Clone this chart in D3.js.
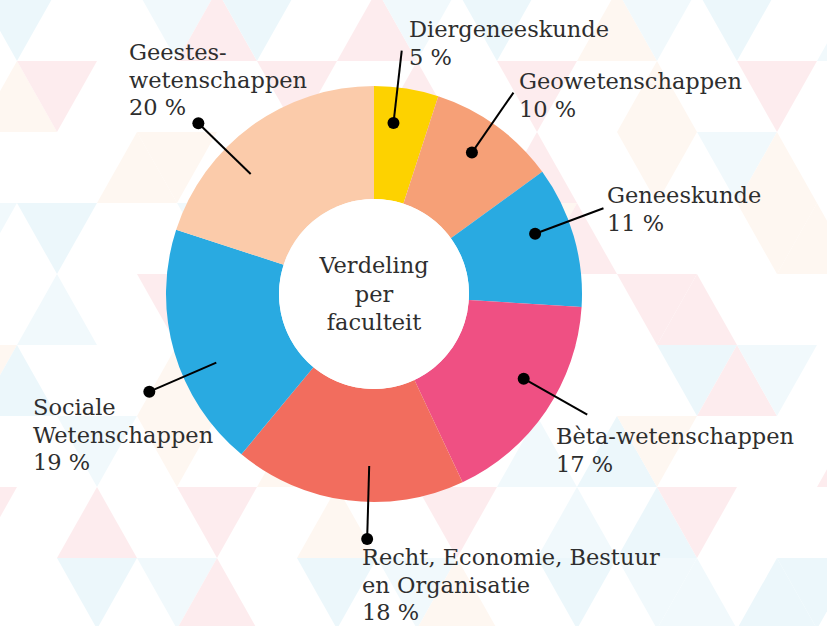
<!DOCTYPE html>
<html>
<head>
<meta charset="utf-8">
<script src="https://cdn.jsdelivr.net/npm/d3@7"></script>
<style>
  body { margin: 0; background: #fff; }
  #chart text { font-family: "DejaVu Serif", serif; font-size: 22.5px; fill: #2e2e2e; }
</style>
</head>
<body>
<div id="chart"></div>
<script>
// data
const faculties = ["Diergeneeskunde", "Geowetenschappen", "Geneeskunde", "Bèta-wetenschappen",
  "Recht, Economie, Bestuur en Organisatie", "Sociale Wetenschappen", "Geestes-wetenschappen"];
const shares = [5, 10, 11, 17, 18, 19, 20];
const labelLines = [["Diergeneeskunde"], ["Geowetenschappen"], ["Geneeskunde"], ["Bèta-wetenschappen"],
  ["Recht, Economie, Bestuur", "en Organisatie"], ["Sociale", "Wetenschappen"], ["Geestes-", "wetenschappen"]];
const colors = ["#fdd200", "#f6a077", "#29aae1", "#ef5083", "#f26d5e", "#29aae1", "#fbcbaa"];
const centerTitle = ["Verdeling", "per", "faculteit"];

// label layout (leader angle in degrees, dot side, text anchor)
const leaderAngle = [6.5, 34.7, 69.5, 119.5, 181.6, 246.5, 314.2];
const dotOutside = [false, false, false, false, true, true, true];
const labelX = [409, 519, 607, 556, 362, 33, 129];
const labelY = [37, 89, 203, 444, 565, 415, 60];

const width = 827, height = 626;
const cx = 374, cy = 294;
const outerR = 208, innerR = 95;
const lineH = 27.5;

const svg = d3.select("#chart").append("svg")
  .attr("width", width)
  .attr("height", height);

// faint triangle background
const triColors = ["#d8eff7", "#fbd9dd", "#fdeee2", "#e3f3f9"];
const bg = svg.append("g").attr("class", "bg");
const triH = 71, triW = 80;
for (let r = -7; r <= 2; r++) {
  const y0 = 487 + r * triH, y1 = y0 + triH;
  const a = (r % 2 === 0 ? 177 : 217) - 3 * triW;
  for (let k = 0; k < 12; k++) {
    const tx = a + k * triW;
    const pick1 = (Math.abs(r * 5 + k * 3) + 1) % 9;
    const pick2 = (Math.abs(r * 3 + k * 7) + 4) % 10;
    if (pick1 < triColors.length) {
      bg.append("path")
        .attr("d", `M${tx},${y0}L${tx + triW},${y0}L${tx + triW / 2},${y1}Z`)
        .attr("fill", triColors[pick1]);
    }
    if (pick2 < triColors.length) {
      bg.append("path")
        .attr("d", `M${tx + triW / 2},${y1}L${tx + triW * 1.5},${y1}L${tx + triW},${y0}Z`)
        .attr("fill", triColors[pick2]);
    }
  }
}
// soften background
bg.append("rect").attr("width", width).attr("height", height)
  .attr("fill", "#fff").attr("opacity", 0.5);

const g = svg.append("g").attr("transform", `translate(${cx},${cy})`);

const pie = d3.pie().sort(null).value(d => d);
const arc = d3.arc().innerRadius(innerR).outerRadius(outerR);

g.selectAll("path.slice")
  .data(pie(shares))
  .join("path")
  .attr("class", "slice")
  .attr("d", arc)
  .attr("fill", (d, i) => colors[i]);

// hole
g.append("circle").attr("r", innerR).attr("fill", "#fff");

g.append("text")
  .attr("text-anchor", "middle")
  .selectAll("tspan")
  .data(centerTitle)
  .join("tspan")
  .attr("x", 0)
  .attr("y", (d, i) => -21 + i * 28.5)
  .text(d => d);

// leaders
const polar = (deg, r) => {
  const a = deg * Math.PI / 180;
  return [Math.sin(a) * r, -Math.cos(a) * r];
};
const r1 = 172, r2 = 245;

shares.forEach((v, i) => {
  const p1 = polar(leaderAngle[i], r1);
  const p2 = polar(leaderAngle[i], r2);
  g.append("line")
    .attr("x1", p1[0]).attr("y1", p1[1])
    .attr("x2", p2[0]).attr("y2", p2[1])
    .attr("stroke", "#000")
    .attr("stroke-width", 2);
  const dp = dotOutside[i] ? p2 : p1;
  g.append("circle")
    .attr("cx", dp[0]).attr("cy", dp[1])
    .attr("r", 6)
    .attr("fill", "#000");
});

// labels
const labels = svg.append("g").attr("class", "labels");
labelLines.forEach((lines, i) => {
  const all = lines.concat([shares[i] + " %"]);
  labels.append("text")
    .selectAll("tspan")
    .data(all)
    .join("tspan")
    .attr("x", labelX[i])
    .attr("y", (d, j) => labelY[i] + j * lineH)
    .text(d => d);
});
</script>
</body>
</html>
